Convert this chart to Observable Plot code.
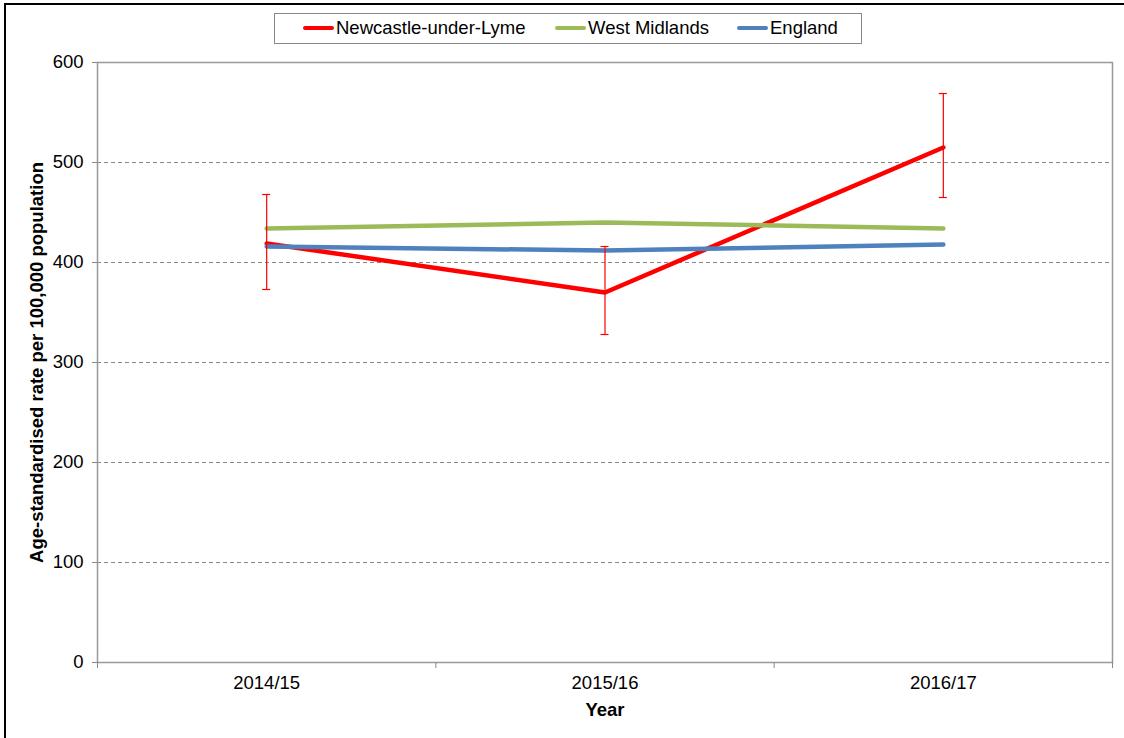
<!DOCTYPE html>
<html>
<head>
<meta charset="utf-8">
<script src="https://cdn.jsdelivr.net/npm/d3@7"></script>
<script src="https://cdn.jsdelivr.net/npm/@observablehq/plot@0.6"></script>
<style>
  html, body { margin: 0; padding: 0; background: #fff; }
  #wrap { position: relative; width: 1124px; height: 738px; overflow: hidden; font-family: "Liberation Sans", Arial, sans-serif; }
  #frame { position: absolute; left: 4px; top: 3px; width: 1200px; height: 800px; border: 2px solid #000; box-sizing: border-box; }
  #legend { position: absolute; left: 274px; top: 13px; width: 588px; height: 31px; border: 1px solid #888; box-sizing: border-box; background: #fff; font-size: 18.5px; color: #000; }
  .item { position: absolute; top: 3px; white-space: nowrap; line-height: 22px; }
  .sw { display: inline-block; width: 31px; height: 4px; border-radius: 2px; vertical-align: middle; margin-right: 2px; position: relative; top: -1px; }
  #chart { position: absolute; left: 0; top: 0; }
</style>
</head>
<body>
<div id="wrap">
  <div id="frame"></div>
  <div id="chart"></div>
  <div id="legend"></div>
</div>
<script>
const categories = ["2014/15", "2015/16", "2016/17"];
const seriesNames = ["Newcastle-under-Lyme", "West Midlands", "England"];
const seriesColors = ["#ff0000", "#9bbb59", "#4f81bd"];
const newcastle = [419, 370, 515];
const newcastleLower = [373, 328, 465];
const newcastleUpper = [468, 416, 569];
const westMidlands = [434, 440, 434];
const england = [416, 412, 418];
const yTicks = [0, 100, 200, 300, 400, 500, 600];

const values = [newcastle, westMidlands, england];
const rows = [];
seriesNames.forEach((s, k) => categories.forEach((c, i) => rows.push({series: s, i: i + 0.5, cat: c, value: values[k][i]})));
const errs = categories.map((c, i) => ({i: i + 0.5, lo: newcastleLower[i], hi: newcastleUpper[i]}));
const bounds = d3.range(categories.length + 1);

const font = "Liberation Sans, Arial, sans-serif";
const plot = Plot.plot({
  width: 1124,
  height: 738,
  marginLeft: 97,
  marginRight: 12,
  marginTop: 62,
  marginBottom: 76,
  style: {fontFamily: font, fontSize: "18.5px", color: "#000", background: "transparent"},
  x: {type: "linear", domain: [0, categories.length]},
  y: {domain: [0, 600]},
  color: {domain: seriesNames, range: seriesColors},
  marks: [
    Plot.ruleY(yTicks.filter(t => t > 0 && t < 600), {stroke: "#888", strokeDasharray: "4,3", strokeWidth: 1}),
    Plot.frame({stroke: "#999", strokeWidth: 1.5}),
    Plot.axisY({ticks: yTicks, tickSize: 5, tickPadding: 9, stroke: "#888", fontSize: 18.5, label: null}),
    Plot.axisX({ticks: bounds, tickSize: 6, tickFormat: () => "", stroke: "#888", label: null}),
    Plot.axisX({ticks: categories.map((c, i) => i + 0.5), tickSize: 0, tickPadding: 13, tickFormat: v => categories[Math.round(v - 0.5)], fontSize: 18.5, label: null}),
    Plot.line(rows, {x: "i", y: "value", z: "series", stroke: "series", strokeWidth: 4.5, strokeLinecap: "round", strokeLinejoin: "round"}),
    Plot.ruleX(errs, {x: "i", y1: "lo", y2: "hi", stroke: "#ff0000", strokeWidth: 1.2}),
    Plot.ruleY(errs, {y: "hi", x1: "i", x2: "i", insetLeft: -4, insetRight: -4, stroke: "#ff0000", strokeWidth: 1.2}),
    Plot.ruleY(errs, {y: "lo", x1: "i", x2: "i", insetLeft: -4, insetRight: -4, stroke: "#ff0000", strokeWidth: 1.2}),
    Plot.text(["Year"], {frameAnchor: "bottom", dy: 53, fontWeight: "bold", fontSize: 18.5, text: d => d}),
    Plot.text(["Age-standardised rate per 100,000 population"], {frameAnchor: "left", dx: -60, rotate: -90, textAnchor: "middle", fontWeight: "bold", fontSize: 18.5, text: d => d})
  ]
});
document.getElementById("chart").appendChild(plot);

const legend = document.getElementById("legend");
const lefts = [28, 280, 462];
seriesNames.forEach((s, k) => {
  const it = document.createElement("div");
  it.className = "item";
  it.style.left = lefts[k] + "px";
  const sw = document.createElement("span");
  sw.className = "sw";
  sw.style.background = seriesColors[k];
  it.appendChild(sw);
  it.appendChild(document.createTextNode(s));
  legend.appendChild(it);
});
</script>
</body>
</html>
